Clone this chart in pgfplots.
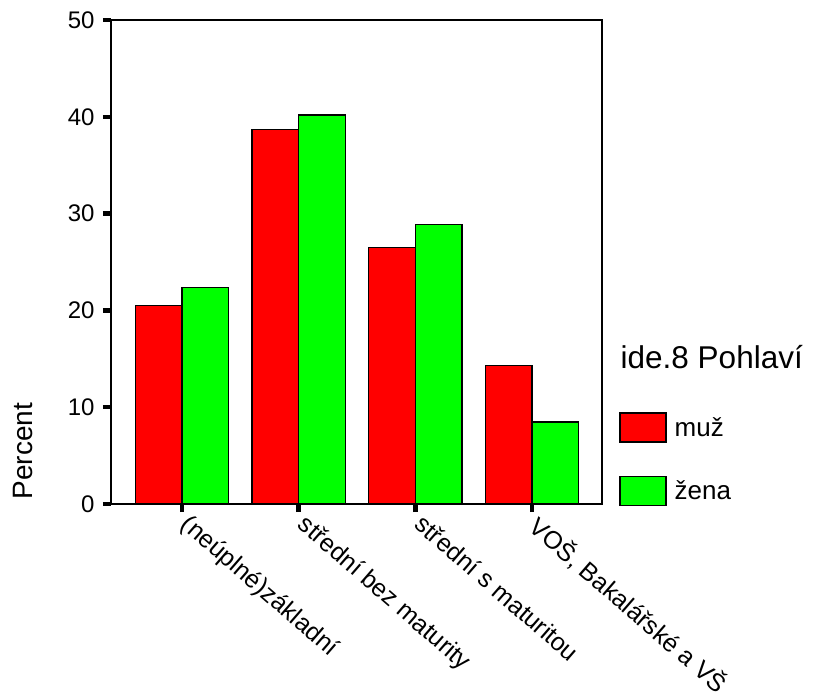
\documentclass[border=0pt]{standalone}
\usepackage{pgfplots}
\pgfplotsset{compat=1.18}
\usepackage{fontspec}
\setmainfont{Liberation Sans}
\definecolor{barred}{RGB}{255,0,0}
\definecolor{bargreen}{RGB}{0,255,0}
\begin{document}
\begin{tikzpicture}
\useasboundingbox (-111pt,-193pt) rectangle (702pt,504pt);
\begin{axis}[
  at={(0pt,0pt)}, anchor=south west,
  scale only axis, width=491pt, height=484pt,
  xmin=-0.6086, xmax=3.6, ymin=0, ymax=50,
  clip=false,
  xtick={0,1,2,3},
  xticklabels={(neúplné)základní, střední bez maturity, střední s maturitou, {VOŠ, Bakalářské a VŠ}},
  ytick={0,10,20,30,40,50},
  tick align=outside, xtick pos=bottom, ytick pos=left,
  major tick length=8pt,
  every tick/.style={black, line width=4.5pt},
  axis line style={line width=1.5pt},
  /pgf/number format/assume math mode=true,
  yticklabel style={font=\fontsize{24}{24}\selectfont, xshift=-5pt},
  xticklabel style={font=\fontsize{25}{25}\selectfont, rotate=-41, anchor=north west, inner sep=0pt, xshift=8pt, yshift=6pt},
  ylabel={Percent},
  ylabel style={font=\fontsize{28}{28}\selectfont, at={(rel axis cs:-0.179,0.1095)}, anchor=center},
  ybar, bar width=0.4,
  legend style={at={(rel axis cs:1.0351,0.1895)}, anchor=north west, draw=none, fill=none,
    inner sep=0pt, outer sep=0pt, row sep=33pt, font=\fontsize{26}{26}\selectfont,
    nodes={inner sep=0pt, outer sep=0pt}},
  legend cell align=left,
  legend image code/.code={\draw[#1, line width=1.5pt] (0pt,-14.5pt) rectangle (46pt,14.5pt); \path (54pt,0pt);},
]
\addplot[fill=barred, draw=black, line width=1.5pt, bar shift=-0.2] coordinates {(0,20.5) (1,38.7) (2,26.5) (3,14.3)};
\addlegendentry{muž}
\addplot[fill=bargreen, draw=black, line width=1.5pt, bar shift=0.2] coordinates {(0,22.35) (1,40.2) (2,28.9) (3,8.45)};
\addlegendentry{žena}
\node[anchor=base west, font=\fontsize{31.5}{31.5}\selectfont, inner sep=0pt] at (rel axis cs:1.0377,0.2804) {ide.8 Pohlaví};
\end{axis}
\end{tikzpicture}
\end{document}
